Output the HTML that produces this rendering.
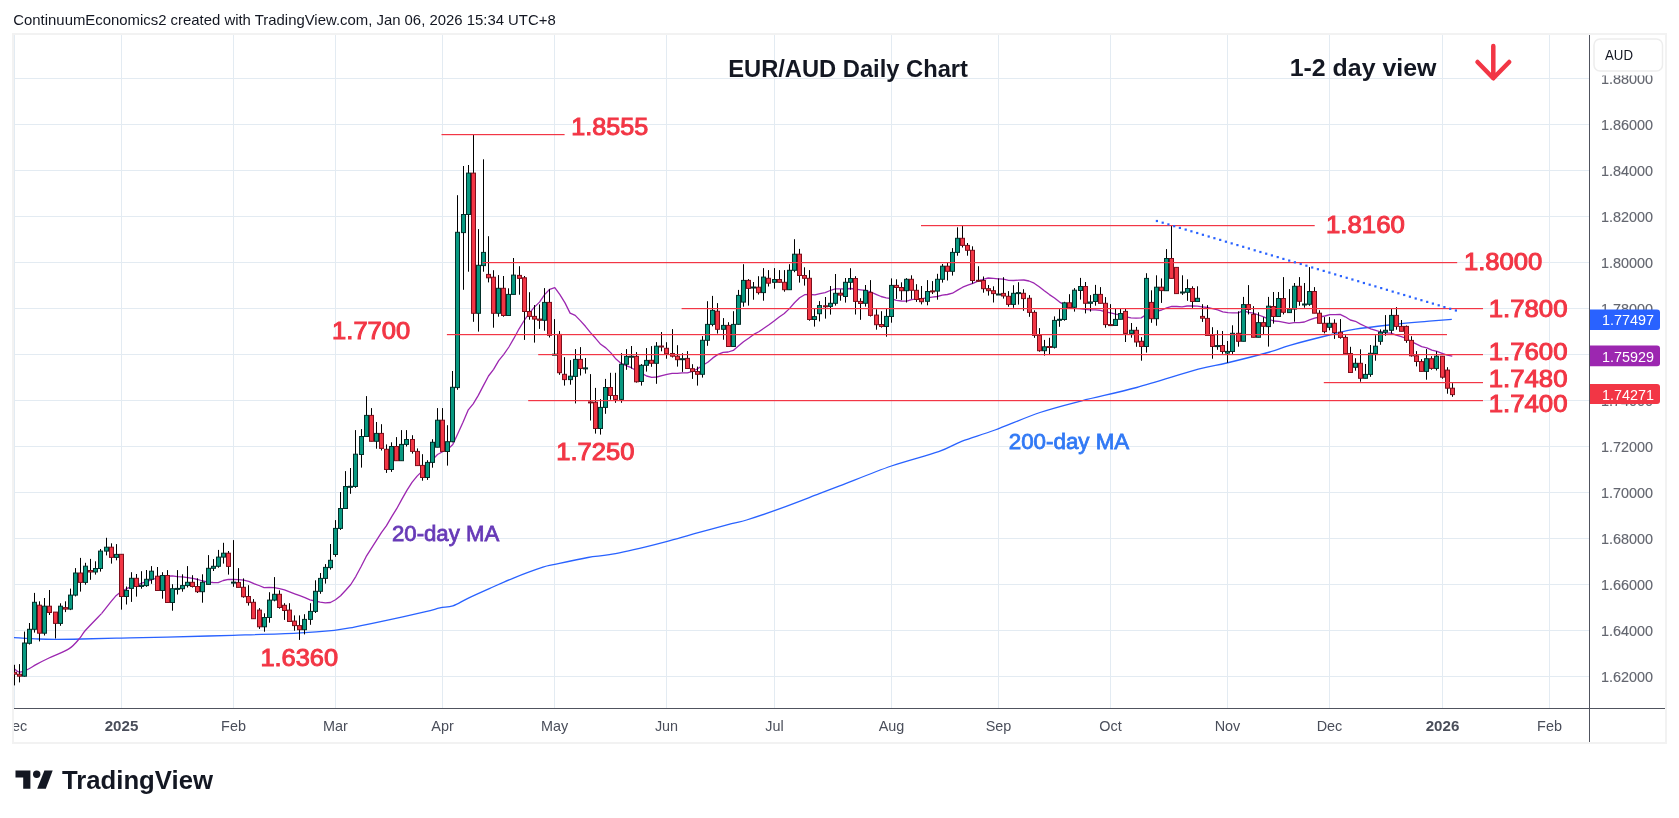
<!DOCTYPE html>
<html><head><meta charset="utf-8"><style>
html,body{margin:0;padding:0;background:#fff;width:1679px;height:818px;overflow:hidden}
svg{display:block;font-family:"Liberation Sans", sans-serif;will-change:transform}
</style></head><body>
<svg width="1679" height="818" viewBox="0 0 1679 818">
<defs>
<clipPath id="chart"><rect x="14" y="35" width="1575" height="673"/></clipPath>
<clipPath id="xaxis"><rect x="14" y="709" width="1575" height="33"/></clipPath>
</defs>
<rect width="1679" height="818" fill="#fff"/>
<rect x="12" y="33" width="1655" height="711" fill="#f2f2f2"/>
<rect x="14" y="35" width="1651" height="707" fill="#ffffff"/>
<rect x="14" y="78" width="1575" height="1" fill="#e3ebf2"/>
<rect x="14" y="124" width="1575" height="1" fill="#e3ebf2"/>
<rect x="14" y="170" width="1575" height="1" fill="#e3ebf2"/>
<rect x="14" y="216" width="1575" height="1" fill="#e3ebf2"/>
<rect x="14" y="262" width="1575" height="1" fill="#e3ebf2"/>
<rect x="14" y="308" width="1575" height="1" fill="#e3ebf2"/>
<rect x="14" y="354" width="1575" height="1" fill="#e3ebf2"/>
<rect x="14" y="400" width="1575" height="1" fill="#e3ebf2"/>
<rect x="14" y="446" width="1575" height="1" fill="#e3ebf2"/>
<rect x="14" y="492" width="1575" height="1" fill="#e3ebf2"/>
<rect x="14" y="538" width="1575" height="1" fill="#e3ebf2"/>
<rect x="14" y="584" width="1575" height="1" fill="#e3ebf2"/>
<rect x="14" y="630" width="1575" height="1" fill="#e3ebf2"/>
<rect x="14" y="676" width="1575" height="1" fill="#e3ebf2"/>
<rect x="14" y="35" width="1" height="673" fill="#e3ebf2"/>
<rect x="121" y="35" width="1" height="673" fill="#e3ebf2"/>
<rect x="233" y="35" width="1" height="673" fill="#e3ebf2"/>
<rect x="335" y="35" width="1" height="673" fill="#e3ebf2"/>
<rect x="442" y="35" width="1" height="673" fill="#e3ebf2"/>
<rect x="554" y="35" width="1" height="673" fill="#e3ebf2"/>
<rect x="666" y="35" width="1" height="673" fill="#e3ebf2"/>
<rect x="774" y="35" width="1" height="673" fill="#e3ebf2"/>
<rect x="891" y="35" width="1" height="673" fill="#e3ebf2"/>
<rect x="998" y="35" width="1" height="673" fill="#e3ebf2"/>
<rect x="1110" y="35" width="1" height="673" fill="#e3ebf2"/>
<rect x="1227" y="35" width="1" height="673" fill="#e3ebf2"/>
<rect x="1329" y="35" width="1" height="673" fill="#e3ebf2"/>
<rect x="1442" y="35" width="1" height="673" fill="#e3ebf2"/>
<rect x="1549" y="35" width="1" height="673" fill="#e3ebf2"/>
<g clip-path="url(#chart)">
<path d="M13.60,637.60 C17.77,637.83 31.58,638.72 38.60,639.00 C45.62,639.28 48.57,639.30 55.70,639.30 C62.83,639.30 70.45,639.20 81.40,639.00 C92.35,638.80 107.13,638.42 121.40,638.10 C135.67,637.78 148.42,637.57 167.00,637.10 C185.58,636.63 211.22,635.97 232.90,635.30 C254.58,634.63 280.20,633.93 297.10,633.10 C314.00,632.27 324.77,631.30 334.30,630.30 C343.83,629.30 345.02,628.87 354.30,627.10 C363.58,625.33 378.10,622.27 390.00,619.70 C401.90,617.13 417.37,613.67 425.70,611.70 C434.03,609.73 435.47,608.88 440.00,607.90 C444.53,606.92 448.25,607.40 452.90,605.80 C457.55,604.20 461.83,601.17 467.90,598.30 C473.97,595.43 481.80,591.93 489.30,588.60 C496.80,585.27 503.97,581.87 512.90,578.30 C521.83,574.73 535.93,569.52 542.90,567.20 C549.87,564.88 547.20,566.02 554.70,564.40 C562.20,562.78 578.78,559.12 587.90,557.50 C597.02,555.88 599.75,556.48 609.40,554.70 C619.05,552.92 636.15,549.02 645.80,546.80 C655.45,544.58 658.72,543.72 667.30,541.40 C675.88,539.08 686.58,535.87 697.30,532.90 C708.02,529.93 723.38,525.75 731.60,523.60 C739.82,521.45 738.53,522.50 746.60,520.00 C754.67,517.50 767.88,512.98 780.00,508.60 C792.12,504.22 809.25,497.52 819.30,493.70 C829.35,489.88 828.28,490.32 840.30,485.70 C852.32,481.08 875.02,471.68 891.40,466.00 C907.78,460.32 926.80,455.75 938.60,451.60 C950.40,447.45 952.80,444.70 962.20,441.10 C971.60,437.50 982.03,434.77 995.00,430.00 C1007.97,425.23 1025.55,417.37 1040.00,412.50 C1054.45,407.63 1065.58,404.97 1081.70,400.80 C1097.82,396.63 1117.27,392.77 1136.70,387.50 C1156.13,382.23 1183.30,373.28 1198.30,369.20 C1213.30,365.12 1214.78,365.87 1226.70,363.00 C1238.62,360.13 1259.28,354.95 1269.80,352.00 C1280.32,349.05 1279.52,348.22 1289.80,345.30 C1300.08,342.38 1320.58,337.18 1331.50,334.50 C1342.42,331.82 1345.38,330.82 1355.30,329.20 C1365.22,327.58 1379.08,326.10 1391.00,324.80 C1402.92,323.50 1416.67,322.32 1426.80,321.40 C1436.93,320.48 1447.63,319.65 1451.80,319.30" fill="none" stroke="#2962ff" stroke-width="1.3" stroke-linejoin="round"/>
<path d="M13.40,668.10 C14.40,668.78 17.05,671.97 19.40,672.20 C21.75,672.43 24.58,670.85 27.50,669.50 C30.42,668.15 33.32,666.02 36.90,664.10 C40.48,662.18 43.62,660.58 49.00,658.00 C54.38,655.42 64.03,651.95 69.20,648.60 C74.37,645.25 77.32,640.92 80.00,637.90 C82.68,634.88 81.72,634.55 85.30,630.50 C88.88,626.45 98.80,616.42 101.50,613.60" fill="none" stroke="#9c27b0" stroke-width="1.3"/>
<polyline points="101.5,613.6 111.2,601.4 116.3,595.4 121.3,591.5 126.4,588.8 131.5,586.3 136.6,585.5 141.7,583.1 146.8,581.7 151.9,579.7 157.0,578.0 162.1,576.5 167.2,576.2 172.3,575.8 177.4,576.6 182.5,576.8 187.6,577.6 192.7,578.3 197.8,579.5 202.9,581.0 208.0,582.1 213.1,582.5 218.2,582.7 223.3,580.5 228.4,579.3 233.5,579.5 238.6,579.6 243.7,580.1 248.8,581.3 253.9,583.7 259.0,585.5 264.1,587.6 269.2,587.5 274.3,587.7 279.4,588.7 284.5,589.9 289.6,591.9 294.7,593.8 299.8,595.7 304.9,597.6 310.0,599.8 315.1,601.0 320.2,602.1 325.3,602.8 330.4,602.5 335.5,599.8 340.6,595.8 345.7,590.3 350.8,584.5 355.9,576.3 361.0,566.8 366.1,556.7 371.2,548.7 376.3,540.7 381.4,532.7 386.5,525.7 391.6,516.9 396.7,508.7 401.8,499.4 406.9,490.4 412.0,482.4 417.1,476.1 422.2,471.1 427.3,465.8 432.4,459.9 437.5,454.5 442.6,451.7 447.7,449.4 452.8,444.5 457.9,433.4 463.0,422.3 468.1,410.2 473.2,403.8 478.3,395.4 483.4,385.6 488.5,376.0 493.6,369.3 498.7,360.7 503.8,354.3 508.9,347.0 514.0,338.2 519.1,328.8 524.2,320.5 529.3,313.2 534.4,307.1 539.5,302.1 544.6,294.6 549.7,289.3 554.8,287.7 559.9,294.7 565.0,302.9 570.1,313.1 575.2,315.4 580.3,320.6 585.4,326.3 590.5,332.6 595.6,338.3 600.7,344.3 605.8,347.9 610.9,352.9 616.0,359.1 621.1,363.4 626.2,365.7 631.3,367.7 636.4,370.8 641.5,373.1 646.6,376.0 651.7,377.4 656.8,377.0 661.9,375.6 667.0,374.4 672.1,373.4 677.2,373.4 682.3,372.9 687.4,372.9 692.5,371.4 697.6,368.7 702.7,365.3 707.8,362.2 712.9,357.9 718.0,354.4 723.1,352.4 728.2,352.0 733.3,350.4 738.4,346.0 743.5,341.8 748.6,338.2 753.7,334.4 758.8,331.7 763.9,328.2 769.0,324.7 774.1,320.9 779.2,317.0 784.3,313.5 789.4,308.6 794.5,302.8 799.6,297.8 804.7,294.7 809.8,294.5 814.9,294.8 820.0,293.6 825.1,292.6 830.2,290.5 835.3,288.9 840.4,288.9 845.5,289.0 850.5,288.5 855.6,289.2 860.7,289.8 865.8,290.4 870.9,292.0 876.0,294.3 881.1,296.5 886.2,297.8 891.3,298.6 896.4,300.3 901.5,301.0 906.6,301.1 911.7,299.6 916.8,298.8 921.9,298.6 927.0,297.8 932.1,297.2 937.2,296.5 942.3,295.1 947.4,294.5 952.5,293.2 957.6,290.1 962.7,287.2 967.8,285.2 972.9,283.4 978.0,281.2 983.1,279.3 988.2,278.0 993.3,278.4 998.4,278.8 1003.5,279.1 1008.6,280.3 1013.7,280.5 1018.8,280.1 1023.9,280.0 1029.0,281.0 1034.1,283.2 1039.2,286.8 1044.3,290.8 1049.4,294.6 1054.5,298.0 1059.6,302.1 1064.7,304.9 1069.8,307.8 1074.9,308.3 1080.0,308.6 1085.1,309.3 1090.2,309.9 1095.3,309.9 1100.4,310.4 1105.5,311.8 1110.6,312.8 1115.7,314.1 1120.8,315.2 1125.9,316.9 1131.0,317.8 1136.1,318.1 1141.2,317.9 1146.3,314.5 1151.4,313.1 1156.5,311.4 1161.6,310.0 1166.7,307.8 1171.8,306.3 1176.9,306.5 1182.0,306.8 1187.1,306.0 1192.2,306.0 1197.3,306.2 1202.4,306.9 1207.5,307.5 1212.6,308.6 1217.7,309.9 1222.8,311.8 1227.9,312.7 1233.0,312.8 1238.1,312.8 1243.2,310.7 1248.3,312.3 1253.4,313.2 1258.5,315.0 1263.6,316.8 1268.7,319.1 1273.8,321.0 1278.9,321.3 1284.0,322.3 1289.1,323.3 1294.2,322.6 1299.3,322.7 1304.4,322.0 1309.5,319.8 1314.6,318.1 1319.7,317.0 1324.8,316.0 1329.9,314.6 1335.0,314.6 1340.1,314.4 1345.2,316.8 1350.3,320.0 1355.4,321.3 1360.5,324.1 1365.6,326.5 1370.7,328.8 1375.8,330.3 1380.9,332.0 1386.0,332.9 1391.1,333.2 1396.2,335.2 1401.3,336.7 1406.4,338.5 1411.5,341.7 1416.6,344.1 1421.7,346.6 1426.8,347.9 1431.9,350.2 1437.0,351.4 1442.1,353.3 1447.2,355.1 1452.3,356.2" fill="none" stroke="#9c27b0" stroke-width="1.3" stroke-linejoin="round"/>
<rect x="14" y="664.8" width="1" height="20.6" fill="#000"/>
<rect x="12.5" y="672.3" width="4" height="1.9" fill="#f23645" stroke="#7d0f1c" stroke-width="1"/>
<rect x="19" y="664.1" width="1" height="18.3" fill="#000"/>
<rect x="17.5" y="674.2" width="4" height="2.0" fill="#f23645" stroke="#7d0f1c" stroke-width="1"/>
<rect x="24" y="631.6" width="1" height="45.0" fill="#000"/>
<rect x="22.5" y="643.0" width="4" height="33.2" fill="#089981" stroke="#03302a" stroke-width="1"/>
<rect x="29" y="623.0" width="1" height="21.5" fill="#000"/>
<rect x="27.5" y="629.3" width="4" height="14.0" fill="#089981" stroke="#03302a" stroke-width="1"/>
<rect x="34" y="592.9" width="1" height="39.7" fill="#000"/>
<rect x="32.5" y="602.3" width="4" height="27.0" fill="#089981" stroke="#03302a" stroke-width="1"/>
<rect x="39" y="601.3" width="1" height="40.1" fill="#000"/>
<rect x="37.5" y="605.2" width="4" height="28.0" fill="#f23645" stroke="#7d0f1c" stroke-width="1"/>
<rect x="44" y="598.0" width="1" height="37.5" fill="#000"/>
<rect x="42.5" y="606.2" width="4" height="27.0" fill="#089981" stroke="#03302a" stroke-width="1"/>
<rect x="49" y="590.0" width="1" height="25.0" fill="#000"/>
<rect x="47.5" y="606.2" width="4" height="6.3" fill="#f23645" stroke="#7d0f1c" stroke-width="1"/>
<rect x="55" y="612.1" width="1" height="26.4" fill="#000"/>
<rect x="53.5" y="612.1" width="4" height="11.3" fill="#f23645" stroke="#7d0f1c" stroke-width="1"/>
<rect x="60" y="603.3" width="1" height="22.5" fill="#000"/>
<rect x="58.5" y="606.2" width="4" height="17.2" fill="#089981" stroke="#03302a" stroke-width="1"/>
<rect x="65" y="601.3" width="1" height="10.8" fill="#000"/>
<rect x="63.5" y="607.6" width="4" height="1.5" fill="#f23645" stroke="#7d0f1c" stroke-width="1"/>
<rect x="70" y="588.6" width="1" height="21.5" fill="#000"/>
<rect x="68.5" y="595.1" width="4" height="14.0" fill="#089981" stroke="#03302a" stroke-width="1"/>
<rect x="75" y="568.1" width="1" height="28.3" fill="#000"/>
<rect x="73.5" y="573.0" width="4" height="22.1" fill="#089981" stroke="#03302a" stroke-width="1"/>
<rect x="80" y="557.9" width="1" height="33.7" fill="#000"/>
<rect x="78.5" y="573.0" width="4" height="9.4" fill="#f23645" stroke="#7d0f1c" stroke-width="1"/>
<rect x="85" y="562.8" width="1" height="21.9" fill="#000"/>
<rect x="83.5" y="566.2" width="4" height="16.2" fill="#089981" stroke="#03302a" stroke-width="1"/>
<rect x="90" y="558.9" width="1" height="20.9" fill="#000"/>
<rect x="88.5" y="570.5" width="4" height="1.5" fill="#f23645" stroke="#7d0f1c" stroke-width="1"/>
<rect x="95" y="561.3" width="1" height="13.3" fill="#000"/>
<rect x="93.5" y="568.5" width="4" height="3.5" fill="#089981" stroke="#03302a" stroke-width="1"/>
<rect x="100" y="549.0" width="1" height="22.6" fill="#000"/>
<rect x="98.5" y="551.1" width="4" height="17.4" fill="#089981" stroke="#03302a" stroke-width="1"/>
<rect x="106" y="537.8" width="1" height="17.6" fill="#000"/>
<rect x="104.5" y="547.2" width="4" height="3.9" fill="#089981" stroke="#03302a" stroke-width="1"/>
<rect x="111" y="543.3" width="1" height="20.3" fill="#000"/>
<rect x="109.5" y="547.2" width="4" height="10.2" fill="#f23645" stroke="#7d0f1c" stroke-width="1"/>
<rect x="116" y="544.1" width="1" height="16.2" fill="#000"/>
<rect x="114.5" y="554.4" width="4" height="3.0" fill="#089981" stroke="#03302a" stroke-width="1"/>
<rect x="121" y="554.3" width="1" height="55.3" fill="#000"/>
<rect x="119.5" y="554.3" width="4" height="42.2" fill="#f23645" stroke="#7d0f1c" stroke-width="1"/>
<rect x="126" y="586.5" width="1" height="18.0" fill="#000"/>
<rect x="124.5" y="590.4" width="4" height="6.1" fill="#089981" stroke="#03302a" stroke-width="1"/>
<rect x="131" y="572.2" width="1" height="29.7" fill="#000"/>
<rect x="129.5" y="578.3" width="4" height="10.1" fill="#089981" stroke="#03302a" stroke-width="1"/>
<rect x="136" y="574.0" width="1" height="22.6" fill="#000"/>
<rect x="134.5" y="578.3" width="4" height="8.2" fill="#f23645" stroke="#7d0f1c" stroke-width="1"/>
<rect x="141" y="571.2" width="1" height="17.5" fill="#000"/>
<rect x="139.5" y="585.3" width="4" height="1.2" fill="#089981" stroke="#03302a" stroke-width="1"/>
<rect x="146" y="570.0" width="1" height="16.8" fill="#000"/>
<rect x="144.5" y="579.3" width="4" height="6.3" fill="#089981" stroke="#03302a" stroke-width="1"/>
<rect x="151" y="566.1" width="1" height="17.7" fill="#000"/>
<rect x="149.5" y="571.2" width="4" height="8.1" fill="#089981" stroke="#03302a" stroke-width="1"/>
<rect x="157" y="567.0" width="1" height="23.5" fill="#000"/>
<rect x="155.5" y="576.2" width="4" height="14.3" fill="#f23645" stroke="#7d0f1c" stroke-width="1"/>
<rect x="162" y="572.2" width="1" height="26.5" fill="#000"/>
<rect x="160.5" y="575.5" width="4" height="15.0" fill="#089981" stroke="#03302a" stroke-width="1"/>
<rect x="167" y="570.1" width="1" height="32.4" fill="#000"/>
<rect x="165.5" y="575.5" width="4" height="27.0" fill="#f23645" stroke="#7d0f1c" stroke-width="1"/>
<rect x="172" y="584.2" width="1" height="26.5" fill="#000"/>
<rect x="170.5" y="588.7" width="4" height="13.8" fill="#089981" stroke="#03302a" stroke-width="1"/>
<rect x="177" y="570.1" width="1" height="24.4" fill="#000"/>
<rect x="175.5" y="588.4" width="4" height="1.0" fill="#089981" stroke="#03302a" stroke-width="1"/>
<rect x="182" y="574.3" width="1" height="17.4" fill="#000"/>
<rect x="180.5" y="585.6" width="4" height="3.1" fill="#089981" stroke="#03302a" stroke-width="1"/>
<rect x="187" y="566.1" width="1" height="21.4" fill="#000"/>
<rect x="185.5" y="582.3" width="4" height="3.3" fill="#089981" stroke="#03302a" stroke-width="1"/>
<rect x="192" y="575.2" width="1" height="12.3" fill="#000"/>
<rect x="190.5" y="582.3" width="4" height="4.2" fill="#f23645" stroke="#7d0f1c" stroke-width="1"/>
<rect x="197" y="578.3" width="1" height="14.7" fill="#000"/>
<rect x="195.5" y="586.5" width="4" height="5.2" fill="#f23645" stroke="#7d0f1c" stroke-width="1"/>
<rect x="202" y="574.3" width="1" height="28.4" fill="#000"/>
<rect x="200.5" y="582.3" width="4" height="9.4" fill="#089981" stroke="#03302a" stroke-width="1"/>
<rect x="208" y="555.1" width="1" height="29.3" fill="#000"/>
<rect x="206.5" y="568.3" width="4" height="16.1" fill="#089981" stroke="#03302a" stroke-width="1"/>
<rect x="213" y="559.1" width="1" height="11.9" fill="#000"/>
<rect x="211.5" y="566.3" width="4" height="2.0" fill="#089981" stroke="#03302a" stroke-width="1"/>
<rect x="218" y="549.9" width="1" height="17.8" fill="#000"/>
<rect x="216.5" y="557.1" width="4" height="9.2" fill="#089981" stroke="#03302a" stroke-width="1"/>
<rect x="223" y="542.8" width="1" height="20.8" fill="#000"/>
<rect x="221.5" y="553.2" width="4" height="3.9" fill="#089981" stroke="#03302a" stroke-width="1"/>
<rect x="228" y="551.0" width="1" height="23.6" fill="#000"/>
<rect x="226.5" y="553.2" width="4" height="13.2" fill="#f23645" stroke="#7d0f1c" stroke-width="1"/>
<rect x="233" y="540.1" width="1" height="46.7" fill="#000"/>
<rect x="231.5" y="582.1" width="4" height="1.0" fill="#089981" stroke="#03302a" stroke-width="1"/>
<rect x="238" y="568.1" width="1" height="19.3" fill="#000"/>
<rect x="236.5" y="582.4" width="4" height="5.0" fill="#f23645" stroke="#7d0f1c" stroke-width="1"/>
<rect x="243" y="578.4" width="1" height="19.3" fill="#000"/>
<rect x="241.5" y="587.3" width="4" height="9.4" fill="#f23645" stroke="#7d0f1c" stroke-width="1"/>
<rect x="248" y="585.2" width="1" height="20.4" fill="#000"/>
<rect x="246.5" y="596.5" width="4" height="6.1" fill="#f23645" stroke="#7d0f1c" stroke-width="1"/>
<rect x="253" y="599.1" width="1" height="19.6" fill="#000"/>
<rect x="251.5" y="602.3" width="4" height="16.4" fill="#f23645" stroke="#7d0f1c" stroke-width="1"/>
<rect x="259" y="608.1" width="1" height="20.8" fill="#000"/>
<rect x="257.5" y="610.1" width="4" height="16.7" fill="#f23645" stroke="#7d0f1c" stroke-width="1"/>
<rect x="264" y="613.3" width="1" height="18.4" fill="#000"/>
<rect x="262.5" y="617.5" width="4" height="9.3" fill="#089981" stroke="#03302a" stroke-width="1"/>
<rect x="269" y="592.2" width="1" height="30.5" fill="#000"/>
<rect x="267.5" y="600.1" width="4" height="17.4" fill="#089981" stroke="#03302a" stroke-width="1"/>
<rect x="274" y="577.1" width="1" height="24.2" fill="#000"/>
<rect x="272.5" y="594.3" width="4" height="5.8" fill="#089981" stroke="#03302a" stroke-width="1"/>
<rect x="279" y="590.3" width="1" height="18.4" fill="#000"/>
<rect x="277.5" y="594.3" width="4" height="13.2" fill="#f23645" stroke="#7d0f1c" stroke-width="1"/>
<rect x="284" y="603.2" width="1" height="16.7" fill="#000"/>
<rect x="282.5" y="605.3" width="4" height="5.2" fill="#f23645" stroke="#7d0f1c" stroke-width="1"/>
<rect x="289" y="603.2" width="1" height="18.3" fill="#000"/>
<rect x="287.5" y="610.1" width="4" height="11.4" fill="#f23645" stroke="#7d0f1c" stroke-width="1"/>
<rect x="294" y="615.4" width="1" height="15.3" fill="#000"/>
<rect x="292.5" y="621.1" width="4" height="4.5" fill="#f23645" stroke="#7d0f1c" stroke-width="1"/>
<rect x="299" y="615.4" width="1" height="24.5" fill="#000"/>
<rect x="297.5" y="625.6" width="4" height="4.1" fill="#f23645" stroke="#7d0f1c" stroke-width="1"/>
<rect x="304" y="614.2" width="1" height="20.2" fill="#000"/>
<rect x="302.5" y="619.4" width="4" height="10.3" fill="#089981" stroke="#03302a" stroke-width="1"/>
<rect x="310" y="603.2" width="1" height="21.6" fill="#000"/>
<rect x="308.5" y="611.4" width="4" height="8.0" fill="#089981" stroke="#03302a" stroke-width="1"/>
<rect x="315" y="580.3" width="1" height="32.7" fill="#000"/>
<rect x="313.5" y="591.3" width="4" height="20.1" fill="#089981" stroke="#03302a" stroke-width="1"/>
<rect x="320" y="573.0" width="1" height="20.8" fill="#000"/>
<rect x="318.5" y="578.4" width="4" height="12.9" fill="#089981" stroke="#03302a" stroke-width="1"/>
<rect x="325" y="564.1" width="1" height="19.5" fill="#000"/>
<rect x="323.5" y="567.4" width="4" height="11.0" fill="#089981" stroke="#03302a" stroke-width="1"/>
<rect x="330" y="544.0" width="1" height="25.6" fill="#000"/>
<rect x="328.5" y="560.3" width="4" height="7.3" fill="#089981" stroke="#03302a" stroke-width="1"/>
<rect x="335" y="520.1" width="1" height="36.7" fill="#000"/>
<rect x="333.5" y="528.4" width="4" height="26.1" fill="#089981" stroke="#03302a" stroke-width="1"/>
<rect x="340" y="492.0" width="1" height="37.9" fill="#000"/>
<rect x="338.5" y="508.5" width="4" height="19.9" fill="#089981" stroke="#03302a" stroke-width="1"/>
<rect x="345" y="471.1" width="1" height="37.4" fill="#000"/>
<rect x="343.5" y="486.5" width="4" height="22.0" fill="#089981" stroke="#03302a" stroke-width="1"/>
<rect x="350" y="468.0" width="1" height="25.8" fill="#000"/>
<rect x="348.5" y="486.3" width="4" height="1.0" fill="#089981" stroke="#03302a" stroke-width="1"/>
<rect x="355" y="430.1" width="1" height="57.7" fill="#000"/>
<rect x="353.5" y="454.2" width="4" height="32.3" fill="#089981" stroke="#03302a" stroke-width="1"/>
<rect x="361" y="429.1" width="1" height="38.5" fill="#000"/>
<rect x="359.5" y="436.5" width="4" height="18.0" fill="#089981" stroke="#03302a" stroke-width="1"/>
<rect x="366" y="396.1" width="1" height="40.4" fill="#000"/>
<rect x="364.5" y="415.4" width="4" height="21.1" fill="#089981" stroke="#03302a" stroke-width="1"/>
<rect x="371" y="408.1" width="1" height="33.2" fill="#000"/>
<rect x="369.5" y="415.4" width="4" height="25.9" fill="#f23645" stroke="#7d0f1c" stroke-width="1"/>
<rect x="376" y="422.0" width="1" height="26.7" fill="#000"/>
<rect x="374.5" y="433.4" width="4" height="7.9" fill="#089981" stroke="#03302a" stroke-width="1"/>
<rect x="381" y="424.2" width="1" height="26.3" fill="#000"/>
<rect x="379.5" y="433.4" width="4" height="15.0" fill="#f23645" stroke="#7d0f1c" stroke-width="1"/>
<rect x="386" y="444.4" width="1" height="28.5" fill="#000"/>
<rect x="384.5" y="449.3" width="4" height="20.2" fill="#f23645" stroke="#7d0f1c" stroke-width="1"/>
<rect x="391" y="442.3" width="1" height="29.6" fill="#000"/>
<rect x="389.5" y="446.5" width="4" height="23.0" fill="#089981" stroke="#03302a" stroke-width="1"/>
<rect x="396" y="437.1" width="1" height="23.6" fill="#000"/>
<rect x="394.5" y="446.5" width="4" height="14.2" fill="#f23645" stroke="#7d0f1c" stroke-width="1"/>
<rect x="401" y="430.1" width="1" height="30.6" fill="#000"/>
<rect x="399.5" y="444.4" width="4" height="16.3" fill="#089981" stroke="#03302a" stroke-width="1"/>
<rect x="406" y="430.1" width="1" height="16.4" fill="#000"/>
<rect x="404.5" y="439.5" width="4" height="4.9" fill="#089981" stroke="#03302a" stroke-width="1"/>
<rect x="412" y="435.2" width="1" height="18.4" fill="#000"/>
<rect x="410.5" y="439.5" width="4" height="11.9" fill="#f23645" stroke="#7d0f1c" stroke-width="1"/>
<rect x="417" y="448.4" width="1" height="17.2" fill="#000"/>
<rect x="415.5" y="451.4" width="4" height="14.2" fill="#f23645" stroke="#7d0f1c" stroke-width="1"/>
<rect x="422" y="454.2" width="1" height="26.5" fill="#000"/>
<rect x="420.5" y="465.4" width="4" height="12.1" fill="#f23645" stroke="#7d0f1c" stroke-width="1"/>
<rect x="427" y="460.2" width="1" height="19.7" fill="#000"/>
<rect x="425.5" y="462.4" width="4" height="15.1" fill="#089981" stroke="#03302a" stroke-width="1"/>
<rect x="432" y="439.2" width="1" height="28.5" fill="#000"/>
<rect x="430.5" y="442.3" width="4" height="20.1" fill="#089981" stroke="#03302a" stroke-width="1"/>
<rect x="437" y="408.1" width="1" height="39.1" fill="#000"/>
<rect x="435.5" y="420.2" width="4" height="27.0" fill="#089981" stroke="#03302a" stroke-width="1"/>
<rect x="442" y="408.1" width="1" height="43.3" fill="#000"/>
<rect x="440.5" y="420.2" width="4" height="31.2" fill="#f23645" stroke="#7d0f1c" stroke-width="1"/>
<rect x="447" y="425.2" width="1" height="40.4" fill="#000"/>
<rect x="445.5" y="441.7" width="4" height="9.8" fill="#089981" stroke="#03302a" stroke-width="1"/>
<rect x="452" y="371.0" width="1" height="71.3" fill="#000"/>
<rect x="450.5" y="387.3" width="4" height="54.4" fill="#089981" stroke="#03302a" stroke-width="1"/>
<rect x="457" y="195.2" width="1" height="194.6" fill="#000"/>
<rect x="455.5" y="232.3" width="4" height="155.3" fill="#089981" stroke="#03302a" stroke-width="1"/>
<rect x="463" y="166.0" width="1" height="123.8" fill="#000"/>
<rect x="461.5" y="214.5" width="4" height="18.1" fill="#089981" stroke="#03302a" stroke-width="1"/>
<rect x="468" y="165.0" width="1" height="106.7" fill="#000"/>
<rect x="466.5" y="173.1" width="4" height="41.4" fill="#089981" stroke="#03302a" stroke-width="1"/>
<rect x="473" y="134.5" width="1" height="187.3" fill="#000"/>
<rect x="471.5" y="173.1" width="4" height="140.2" fill="#f23645" stroke="#7d0f1c" stroke-width="1"/>
<rect x="478" y="229.1" width="1" height="102.5" fill="#000"/>
<rect x="476.5" y="265.3" width="4" height="48.0" fill="#089981" stroke="#03302a" stroke-width="1"/>
<rect x="483" y="159.3" width="1" height="112.4" fill="#000"/>
<rect x="481.5" y="252.4" width="4" height="13.2" fill="#089981" stroke="#03302a" stroke-width="1"/>
<rect x="488" y="236.2" width="1" height="46.2" fill="#000"/>
<rect x="486.5" y="274.4" width="4" height="3.4" fill="#f23645" stroke="#7d0f1c" stroke-width="1"/>
<rect x="493" y="270.2" width="1" height="57.5" fill="#000"/>
<rect x="491.5" y="277.2" width="4" height="36.1" fill="#f23645" stroke="#7d0f1c" stroke-width="1"/>
<rect x="498" y="275.1" width="1" height="41.6" fill="#000"/>
<rect x="496.5" y="288.3" width="4" height="25.0" fill="#089981" stroke="#03302a" stroke-width="1"/>
<rect x="503" y="276.0" width="1" height="40.7" fill="#000"/>
<rect x="501.5" y="288.3" width="4" height="27.2" fill="#f23645" stroke="#7d0f1c" stroke-width="1"/>
<rect x="508" y="288.3" width="1" height="27.2" fill="#000"/>
<rect x="506.5" y="294.4" width="4" height="21.1" fill="#089981" stroke="#03302a" stroke-width="1"/>
<rect x="513" y="258.0" width="1" height="36.4" fill="#000"/>
<rect x="511.5" y="275.1" width="4" height="19.3" fill="#089981" stroke="#03302a" stroke-width="1"/>
<rect x="519" y="266.2" width="1" height="28.5" fill="#000"/>
<rect x="517.5" y="275.4" width="4" height="3.0" fill="#f23645" stroke="#7d0f1c" stroke-width="1"/>
<rect x="524" y="276.0" width="1" height="63.9" fill="#000"/>
<rect x="522.5" y="277.8" width="4" height="33.7" fill="#f23645" stroke="#7d0f1c" stroke-width="1"/>
<rect x="529" y="292.2" width="1" height="27.5" fill="#000"/>
<rect x="527.5" y="311.5" width="4" height="4.9" fill="#f23645" stroke="#7d0f1c" stroke-width="1"/>
<rect x="534" y="305.1" width="1" height="37.5" fill="#000"/>
<rect x="532.5" y="316.4" width="4" height="2.7" fill="#f23645" stroke="#7d0f1c" stroke-width="1"/>
<rect x="539" y="304.4" width="1" height="24.5" fill="#000"/>
<rect x="537.5" y="319.1" width="4" height="1.2" fill="#f23645" stroke="#7d0f1c" stroke-width="1"/>
<rect x="544" y="288.1" width="1" height="42.6" fill="#000"/>
<rect x="542.5" y="302.4" width="4" height="17.9" fill="#089981" stroke="#03302a" stroke-width="1"/>
<rect x="549" y="289.2" width="1" height="48.3" fill="#000"/>
<rect x="547.5" y="302.4" width="4" height="32.9" fill="#f23645" stroke="#7d0f1c" stroke-width="1"/>
<rect x="554" y="319.1" width="1" height="35.3" fill="#000"/>
<rect x="552.5" y="354.2" width="4" height="1.0" fill="#089981" stroke="#03302a" stroke-width="1"/>
<rect x="559" y="331.1" width="1" height="43.7" fill="#000"/>
<rect x="557.5" y="334.4" width="4" height="38.3" fill="#f23645" stroke="#7d0f1c" stroke-width="1"/>
<rect x="564" y="357.1" width="1" height="28.5" fill="#000"/>
<rect x="562.5" y="374.3" width="4" height="5.3" fill="#f23645" stroke="#7d0f1c" stroke-width="1"/>
<rect x="570" y="360.1" width="1" height="24.6" fill="#000"/>
<rect x="568.5" y="376.2" width="4" height="3.4" fill="#089981" stroke="#03302a" stroke-width="1"/>
<rect x="575" y="349.1" width="1" height="54.3" fill="#000"/>
<rect x="573.5" y="359.4" width="4" height="17.0" fill="#089981" stroke="#03302a" stroke-width="1"/>
<rect x="580" y="347.1" width="1" height="28.4" fill="#000"/>
<rect x="578.5" y="359.4" width="4" height="9.1" fill="#f23645" stroke="#7d0f1c" stroke-width="1"/>
<rect x="585" y="358.0" width="1" height="15.6" fill="#000"/>
<rect x="583.5" y="367.9" width="4" height="1.0" fill="#089981" stroke="#03302a" stroke-width="1"/>
<rect x="590" y="374.1" width="1" height="46.4" fill="#000"/>
<rect x="588.5" y="401.9" width="4" height="1.0" fill="#f23645" stroke="#7d0f1c" stroke-width="1"/>
<rect x="595" y="387.9" width="1" height="45.7" fill="#000"/>
<rect x="593.5" y="402.2" width="4" height="26.3" fill="#f23645" stroke="#7d0f1c" stroke-width="1"/>
<rect x="600" y="399.1" width="1" height="35.5" fill="#000"/>
<rect x="598.5" y="407.4" width="4" height="21.1" fill="#089981" stroke="#03302a" stroke-width="1"/>
<rect x="605" y="378.9" width="1" height="34.9" fill="#000"/>
<rect x="603.5" y="387.5" width="4" height="19.9" fill="#089981" stroke="#03302a" stroke-width="1"/>
<rect x="610" y="372.8" width="1" height="26.9" fill="#000"/>
<rect x="608.5" y="387.5" width="4" height="8.0" fill="#f23645" stroke="#7d0f1c" stroke-width="1"/>
<rect x="615" y="372.8" width="1" height="30.0" fill="#000"/>
<rect x="613.5" y="395.5" width="4" height="3.9" fill="#f23645" stroke="#7d0f1c" stroke-width="1"/>
<rect x="621" y="353.1" width="1" height="49.7" fill="#000"/>
<rect x="619.5" y="364.3" width="4" height="35.1" fill="#089981" stroke="#03302a" stroke-width="1"/>
<rect x="626" y="349.1" width="1" height="20.7" fill="#000"/>
<rect x="624.5" y="356.4" width="4" height="7.9" fill="#089981" stroke="#03302a" stroke-width="1"/>
<rect x="631" y="346.0" width="1" height="22.6" fill="#000"/>
<rect x="629.5" y="356.2" width="4" height="1.0" fill="#089981" stroke="#03302a" stroke-width="1"/>
<rect x="636" y="352.1" width="1" height="30.5" fill="#000"/>
<rect x="634.5" y="356.4" width="4" height="25.4" fill="#f23645" stroke="#7d0f1c" stroke-width="1"/>
<rect x="641" y="364.1" width="1" height="21.5" fill="#000"/>
<rect x="639.5" y="365.3" width="4" height="16.2" fill="#089981" stroke="#03302a" stroke-width="1"/>
<rect x="646" y="348.1" width="1" height="23.5" fill="#000"/>
<rect x="644.5" y="360.4" width="4" height="4.9" fill="#089981" stroke="#03302a" stroke-width="1"/>
<rect x="651" y="346.1" width="1" height="20.7" fill="#000"/>
<rect x="649.5" y="360.3" width="4" height="3.0" fill="#f23645" stroke="#7d0f1c" stroke-width="1"/>
<rect x="656" y="342.1" width="1" height="41.7" fill="#000"/>
<rect x="654.5" y="346.2" width="4" height="17.1" fill="#089981" stroke="#03302a" stroke-width="1"/>
<rect x="661" y="332.0" width="1" height="19.3" fill="#000"/>
<rect x="659.5" y="346.0" width="4" height="1.0" fill="#f23645" stroke="#7d0f1c" stroke-width="1"/>
<rect x="666" y="342.2" width="1" height="16.5" fill="#000"/>
<rect x="664.5" y="348.3" width="4" height="5.5" fill="#f23645" stroke="#7d0f1c" stroke-width="1"/>
<rect x="672" y="329.1" width="1" height="28.4" fill="#000"/>
<rect x="670.5" y="353.5" width="4" height="2.7" fill="#f23645" stroke="#7d0f1c" stroke-width="1"/>
<rect x="677" y="345.2" width="1" height="21.4" fill="#000"/>
<rect x="675.5" y="356.2" width="4" height="3.5" fill="#f23645" stroke="#7d0f1c" stroke-width="1"/>
<rect x="682" y="353.2" width="1" height="18.7" fill="#000"/>
<rect x="680.5" y="358.7" width="4" height="1.0" fill="#089981" stroke="#03302a" stroke-width="1"/>
<rect x="687" y="351.1" width="1" height="17.4" fill="#000"/>
<rect x="685.5" y="358.4" width="4" height="10.1" fill="#f23645" stroke="#7d0f1c" stroke-width="1"/>
<rect x="692" y="364.2" width="1" height="14.7" fill="#000"/>
<rect x="690.5" y="368.7" width="4" height="2.8" fill="#f23645" stroke="#7d0f1c" stroke-width="1"/>
<rect x="697" y="366.6" width="1" height="19.0" fill="#000"/>
<rect x="695.5" y="371.5" width="4" height="2.8" fill="#f23645" stroke="#7d0f1c" stroke-width="1"/>
<rect x="702" y="336.1" width="1" height="41.5" fill="#000"/>
<rect x="700.5" y="340.3" width="4" height="34.0" fill="#089981" stroke="#03302a" stroke-width="1"/>
<rect x="707" y="301.2" width="1" height="44.6" fill="#000"/>
<rect x="705.5" y="324.4" width="4" height="15.9" fill="#089981" stroke="#03302a" stroke-width="1"/>
<rect x="712" y="295.9" width="1" height="30.4" fill="#000"/>
<rect x="710.5" y="310.4" width="4" height="14.0" fill="#089981" stroke="#03302a" stroke-width="1"/>
<rect x="717" y="303.1" width="1" height="30.5" fill="#000"/>
<rect x="715.5" y="311.2" width="4" height="18.1" fill="#f23645" stroke="#7d0f1c" stroke-width="1"/>
<rect x="723" y="318.1" width="1" height="21.6" fill="#000"/>
<rect x="721.5" y="325.4" width="4" height="3.9" fill="#089981" stroke="#03302a" stroke-width="1"/>
<rect x="728" y="322.2" width="1" height="24.3" fill="#000"/>
<rect x="726.5" y="325.4" width="4" height="21.1" fill="#f23645" stroke="#7d0f1c" stroke-width="1"/>
<rect x="733" y="311.2" width="1" height="35.3" fill="#000"/>
<rect x="731.5" y="324.4" width="4" height="22.1" fill="#089981" stroke="#03302a" stroke-width="1"/>
<rect x="738" y="289.9" width="1" height="34.8" fill="#000"/>
<rect x="736.5" y="295.4" width="4" height="28.9" fill="#089981" stroke="#03302a" stroke-width="1"/>
<rect x="743" y="264.2" width="1" height="42.5" fill="#000"/>
<rect x="741.5" y="280.4" width="4" height="21.7" fill="#089981" stroke="#03302a" stroke-width="1"/>
<rect x="748" y="279.1" width="1" height="26.5" fill="#000"/>
<rect x="746.5" y="280.4" width="4" height="8.0" fill="#f23645" stroke="#7d0f1c" stroke-width="1"/>
<rect x="753" y="282.0" width="1" height="17.7" fill="#000"/>
<rect x="751.5" y="287.0" width="4" height="1.0" fill="#089981" stroke="#03302a" stroke-width="1"/>
<rect x="758" y="276.2" width="1" height="18.3" fill="#000"/>
<rect x="756.5" y="287.2" width="4" height="5.4" fill="#f23645" stroke="#7d0f1c" stroke-width="1"/>
<rect x="763" y="268.1" width="1" height="32.6" fill="#000"/>
<rect x="761.5" y="277.1" width="4" height="15.5" fill="#089981" stroke="#03302a" stroke-width="1"/>
<rect x="768" y="270.1" width="1" height="16.4" fill="#000"/>
<rect x="766.5" y="278.3" width="4" height="4.9" fill="#f23645" stroke="#7d0f1c" stroke-width="1"/>
<rect x="774" y="268.1" width="1" height="20.6" fill="#000"/>
<rect x="772.5" y="279.5" width="4" height="2.8" fill="#089981" stroke="#03302a" stroke-width="1"/>
<rect x="779" y="270.1" width="1" height="12.5" fill="#000"/>
<rect x="777.5" y="279.5" width="4" height="2.8" fill="#f23645" stroke="#7d0f1c" stroke-width="1"/>
<rect x="784" y="270.1" width="1" height="21.6" fill="#000"/>
<rect x="782.5" y="282.3" width="4" height="7.4" fill="#f23645" stroke="#7d0f1c" stroke-width="1"/>
<rect x="789" y="264.2" width="1" height="25.5" fill="#000"/>
<rect x="787.5" y="270.3" width="4" height="19.4" fill="#089981" stroke="#03302a" stroke-width="1"/>
<rect x="794" y="239.2" width="1" height="33.0" fill="#000"/>
<rect x="792.5" y="254.2" width="4" height="16.1" fill="#089981" stroke="#03302a" stroke-width="1"/>
<rect x="799" y="248.9" width="1" height="33.7" fill="#000"/>
<rect x="797.5" y="254.2" width="4" height="21.3" fill="#f23645" stroke="#7d0f1c" stroke-width="1"/>
<rect x="804" y="267.3" width="1" height="18.3" fill="#000"/>
<rect x="802.5" y="275.5" width="4" height="2.8" fill="#f23645" stroke="#7d0f1c" stroke-width="1"/>
<rect x="809" y="270.1" width="1" height="50.6" fill="#000"/>
<rect x="807.5" y="278.3" width="4" height="41.2" fill="#f23645" stroke="#7d0f1c" stroke-width="1"/>
<rect x="814" y="308.9" width="1" height="17.7" fill="#000"/>
<rect x="812.5" y="316.6" width="4" height="2.9" fill="#089981" stroke="#03302a" stroke-width="1"/>
<rect x="819" y="301.1" width="1" height="20.3" fill="#000"/>
<rect x="817.5" y="305.6" width="4" height="8.1" fill="#089981" stroke="#03302a" stroke-width="1"/>
<rect x="825" y="297.0" width="1" height="21.6" fill="#000"/>
<rect x="823.5" y="305.8" width="4" height="1.0" fill="#f23645" stroke="#7d0f1c" stroke-width="1"/>
<rect x="830" y="286.0" width="1" height="28.6" fill="#000"/>
<rect x="828.5" y="303.3" width="4" height="3.1" fill="#089981" stroke="#03302a" stroke-width="1"/>
<rect x="835" y="274.0" width="1" height="31.6" fill="#000"/>
<rect x="833.5" y="293.3" width="4" height="10.0" fill="#089981" stroke="#03302a" stroke-width="1"/>
<rect x="840" y="289.3" width="1" height="11.4" fill="#000"/>
<rect x="838.5" y="293.2" width="4" height="1.9" fill="#f23645" stroke="#7d0f1c" stroke-width="1"/>
<rect x="845" y="278.0" width="1" height="24.6" fill="#000"/>
<rect x="843.5" y="282.3" width="4" height="14.2" fill="#089981" stroke="#03302a" stroke-width="1"/>
<rect x="850" y="268.2" width="1" height="21.5" fill="#000"/>
<rect x="848.5" y="278.5" width="4" height="3.8" fill="#089981" stroke="#03302a" stroke-width="1"/>
<rect x="855" y="276.2" width="1" height="38.3" fill="#000"/>
<rect x="853.5" y="278.5" width="4" height="22.9" fill="#f23645" stroke="#7d0f1c" stroke-width="1"/>
<rect x="860" y="298.2" width="1" height="21.6" fill="#000"/>
<rect x="858.5" y="301.4" width="4" height="2.1" fill="#f23645" stroke="#7d0f1c" stroke-width="1"/>
<rect x="865" y="285.0" width="1" height="21.6" fill="#000"/>
<rect x="863.5" y="290.4" width="4" height="12.9" fill="#089981" stroke="#03302a" stroke-width="1"/>
<rect x="870" y="280.1" width="1" height="36.4" fill="#000"/>
<rect x="868.5" y="292.4" width="4" height="23.0" fill="#f23645" stroke="#7d0f1c" stroke-width="1"/>
<rect x="876" y="309.2" width="1" height="20.5" fill="#000"/>
<rect x="874.5" y="315.1" width="4" height="9.6" fill="#f23645" stroke="#7d0f1c" stroke-width="1"/>
<rect x="881" y="311.2" width="1" height="16.4" fill="#000"/>
<rect x="879.5" y="324.5" width="4" height="2.0" fill="#f23645" stroke="#7d0f1c" stroke-width="1"/>
<rect x="886" y="309.0" width="1" height="27.7" fill="#000"/>
<rect x="884.5" y="316.4" width="4" height="10.1" fill="#089981" stroke="#03302a" stroke-width="1"/>
<rect x="891" y="278.4" width="1" height="44.3" fill="#000"/>
<rect x="889.5" y="285.4" width="4" height="31.1" fill="#089981" stroke="#03302a" stroke-width="1"/>
<rect x="896" y="279.3" width="1" height="19.6" fill="#000"/>
<rect x="894.5" y="285.4" width="4" height="2.1" fill="#f23645" stroke="#7d0f1c" stroke-width="1"/>
<rect x="901" y="282.3" width="1" height="17.8" fill="#000"/>
<rect x="899.5" y="287.5" width="4" height="3.2" fill="#f23645" stroke="#7d0f1c" stroke-width="1"/>
<rect x="906" y="278.1" width="1" height="24.4" fill="#000"/>
<rect x="904.5" y="279.3" width="4" height="11.4" fill="#089981" stroke="#03302a" stroke-width="1"/>
<rect x="911" y="275.3" width="1" height="23.6" fill="#000"/>
<rect x="909.5" y="279.3" width="4" height="11.0" fill="#f23645" stroke="#7d0f1c" stroke-width="1"/>
<rect x="916" y="284.2" width="1" height="17.7" fill="#000"/>
<rect x="914.5" y="290.3" width="4" height="9.2" fill="#f23645" stroke="#7d0f1c" stroke-width="1"/>
<rect x="921" y="286.0" width="1" height="18.4" fill="#000"/>
<rect x="919.5" y="298.5" width="4" height="3.2" fill="#f23645" stroke="#7d0f1c" stroke-width="1"/>
<rect x="927" y="280.1" width="1" height="25.2" fill="#000"/>
<rect x="925.5" y="291.5" width="4" height="9.8" fill="#089981" stroke="#03302a" stroke-width="1"/>
<rect x="932" y="281.1" width="1" height="12.9" fill="#000"/>
<rect x="930.5" y="290.9" width="4" height="1.0" fill="#f23645" stroke="#7d0f1c" stroke-width="1"/>
<rect x="937" y="273.8" width="1" height="25.9" fill="#000"/>
<rect x="935.5" y="279.3" width="4" height="11.8" fill="#089981" stroke="#03302a" stroke-width="1"/>
<rect x="942" y="264.0" width="1" height="18.6" fill="#000"/>
<rect x="940.5" y="266.2" width="4" height="13.1" fill="#089981" stroke="#03302a" stroke-width="1"/>
<rect x="947" y="263.0" width="1" height="17.5" fill="#000"/>
<rect x="945.5" y="266.2" width="4" height="5.1" fill="#f23645" stroke="#7d0f1c" stroke-width="1"/>
<rect x="952" y="248.1" width="1" height="27.5" fill="#000"/>
<rect x="950.5" y="252.4" width="4" height="18.9" fill="#089981" stroke="#03302a" stroke-width="1"/>
<rect x="957" y="227.3" width="1" height="28.4" fill="#000"/>
<rect x="955.5" y="238.3" width="4" height="14.1" fill="#089981" stroke="#03302a" stroke-width="1"/>
<rect x="962" y="225.5" width="1" height="22.0" fill="#000"/>
<rect x="960.5" y="238.3" width="4" height="7.1" fill="#f23645" stroke="#7d0f1c" stroke-width="1"/>
<rect x="967" y="243.0" width="1" height="12.7" fill="#000"/>
<rect x="965.5" y="245.4" width="4" height="4.9" fill="#f23645" stroke="#7d0f1c" stroke-width="1"/>
<rect x="972" y="246.3" width="1" height="37.3" fill="#000"/>
<rect x="970.5" y="250.3" width="4" height="30.2" fill="#f23645" stroke="#7d0f1c" stroke-width="1"/>
<rect x="978" y="266.2" width="1" height="15.5" fill="#000"/>
<rect x="976.5" y="280.3" width="4" height="1.0" fill="#f23645" stroke="#7d0f1c" stroke-width="1"/>
<rect x="983" y="276.5" width="1" height="16.2" fill="#000"/>
<rect x="981.5" y="280.5" width="4" height="8.2" fill="#f23645" stroke="#7d0f1c" stroke-width="1"/>
<rect x="988" y="285.0" width="1" height="10.6" fill="#000"/>
<rect x="986.5" y="288.7" width="4" height="2.0" fill="#f23645" stroke="#7d0f1c" stroke-width="1"/>
<rect x="993" y="286.3" width="1" height="16.2" fill="#000"/>
<rect x="991.5" y="290.7" width="4" height="2.9" fill="#f23645" stroke="#7d0f1c" stroke-width="1"/>
<rect x="998" y="278.4" width="1" height="16.4" fill="#000"/>
<rect x="996.5" y="294.0" width="4" height="1.0" fill="#089981" stroke="#03302a" stroke-width="1"/>
<rect x="1003" y="277.2" width="1" height="21.4" fill="#000"/>
<rect x="1001.5" y="293.4" width="4" height="2.6" fill="#f23645" stroke="#7d0f1c" stroke-width="1"/>
<rect x="1008" y="291.1" width="1" height="15.6" fill="#000"/>
<rect x="1006.5" y="296.3" width="4" height="8.1" fill="#f23645" stroke="#7d0f1c" stroke-width="1"/>
<rect x="1013" y="285.2" width="1" height="22.6" fill="#000"/>
<rect x="1011.5" y="293.3" width="4" height="11.1" fill="#089981" stroke="#03302a" stroke-width="1"/>
<rect x="1018" y="282.2" width="1" height="22.4" fill="#000"/>
<rect x="1016.5" y="292.6" width="4" height="1.0" fill="#089981" stroke="#03302a" stroke-width="1"/>
<rect x="1023" y="289.2" width="1" height="21.6" fill="#000"/>
<rect x="1021.5" y="293.3" width="4" height="5.3" fill="#f23645" stroke="#7d0f1c" stroke-width="1"/>
<rect x="1029" y="295.1" width="1" height="21.7" fill="#000"/>
<rect x="1027.5" y="298.3" width="4" height="14.1" fill="#f23645" stroke="#7d0f1c" stroke-width="1"/>
<rect x="1034" y="310.3" width="1" height="27.5" fill="#000"/>
<rect x="1032.5" y="312.4" width="4" height="23.0" fill="#f23645" stroke="#7d0f1c" stroke-width="1"/>
<rect x="1039" y="328.1" width="1" height="23.6" fill="#000"/>
<rect x="1037.5" y="335.4" width="4" height="15.3" fill="#f23645" stroke="#7d0f1c" stroke-width="1"/>
<rect x="1044" y="339.9" width="1" height="15.7" fill="#000"/>
<rect x="1042.5" y="346.8" width="4" height="3.9" fill="#089981" stroke="#03302a" stroke-width="1"/>
<rect x="1049" y="337.8" width="1" height="16.6" fill="#000"/>
<rect x="1047.5" y="346.5" width="4" height="1.0" fill="#f23645" stroke="#7d0f1c" stroke-width="1"/>
<rect x="1054" y="316.4" width="1" height="32.1" fill="#000"/>
<rect x="1052.5" y="320.4" width="4" height="26.9" fill="#089981" stroke="#03302a" stroke-width="1"/>
<rect x="1059" y="309.1" width="1" height="17.7" fill="#000"/>
<rect x="1057.5" y="319.3" width="4" height="1.0" fill="#089981" stroke="#03302a" stroke-width="1"/>
<rect x="1064" y="301.8" width="1" height="18.9" fill="#000"/>
<rect x="1062.5" y="302.8" width="4" height="16.7" fill="#089981" stroke="#03302a" stroke-width="1"/>
<rect x="1069" y="294.2" width="1" height="13.7" fill="#000"/>
<rect x="1067.5" y="302.8" width="4" height="4.9" fill="#f23645" stroke="#7d0f1c" stroke-width="1"/>
<rect x="1074" y="288.1" width="1" height="23.5" fill="#000"/>
<rect x="1072.5" y="290.2" width="4" height="17.1" fill="#089981" stroke="#03302a" stroke-width="1"/>
<rect x="1080" y="277.9" width="1" height="21.7" fill="#000"/>
<rect x="1078.5" y="286.5" width="4" height="4.0" fill="#089981" stroke="#03302a" stroke-width="1"/>
<rect x="1085" y="282.0" width="1" height="31.4" fill="#000"/>
<rect x="1083.5" y="286.5" width="4" height="16.8" fill="#f23645" stroke="#7d0f1c" stroke-width="1"/>
<rect x="1090" y="295.1" width="1" height="16.5" fill="#000"/>
<rect x="1088.5" y="302.0" width="4" height="1.3" fill="#089981" stroke="#03302a" stroke-width="1"/>
<rect x="1095" y="284.9" width="1" height="20.8" fill="#000"/>
<rect x="1093.5" y="294.4" width="4" height="7.1" fill="#089981" stroke="#03302a" stroke-width="1"/>
<rect x="1100" y="287.1" width="1" height="16.2" fill="#000"/>
<rect x="1098.5" y="294.4" width="4" height="8.9" fill="#f23645" stroke="#7d0f1c" stroke-width="1"/>
<rect x="1105" y="297.1" width="1" height="30.6" fill="#000"/>
<rect x="1103.5" y="303.3" width="4" height="21.3" fill="#f23645" stroke="#7d0f1c" stroke-width="1"/>
<rect x="1110" y="304.1" width="1" height="21.4" fill="#000"/>
<rect x="1108.5" y="324.6" width="4" height="1.0" fill="#f23645" stroke="#7d0f1c" stroke-width="1"/>
<rect x="1115" y="309.0" width="1" height="16.5" fill="#000"/>
<rect x="1113.5" y="319.4" width="4" height="6.1" fill="#089981" stroke="#03302a" stroke-width="1"/>
<rect x="1120" y="308.9" width="1" height="10.4" fill="#000"/>
<rect x="1118.5" y="313.5" width="4" height="5.8" fill="#089981" stroke="#03302a" stroke-width="1"/>
<rect x="1125" y="308.9" width="1" height="33.1" fill="#000"/>
<rect x="1123.5" y="311.4" width="4" height="22.0" fill="#f23645" stroke="#7d0f1c" stroke-width="1"/>
<rect x="1131" y="323.0" width="1" height="14.7" fill="#000"/>
<rect x="1129.5" y="330.3" width="4" height="3.1" fill="#089981" stroke="#03302a" stroke-width="1"/>
<rect x="1136" y="326.9" width="1" height="19.9" fill="#000"/>
<rect x="1134.5" y="330.3" width="4" height="11.7" fill="#f23645" stroke="#7d0f1c" stroke-width="1"/>
<rect x="1141" y="337.1" width="1" height="23.6" fill="#000"/>
<rect x="1139.5" y="341.3" width="4" height="5.2" fill="#f23645" stroke="#7d0f1c" stroke-width="1"/>
<rect x="1146" y="273.2" width="1" height="79.4" fill="#000"/>
<rect x="1144.5" y="278.4" width="4" height="68.1" fill="#089981" stroke="#03302a" stroke-width="1"/>
<rect x="1151" y="290.3" width="1" height="32.5" fill="#000"/>
<rect x="1149.5" y="302.4" width="4" height="16.3" fill="#f23645" stroke="#7d0f1c" stroke-width="1"/>
<rect x="1156" y="275.3" width="1" height="50.4" fill="#000"/>
<rect x="1154.5" y="287.2" width="4" height="31.5" fill="#089981" stroke="#03302a" stroke-width="1"/>
<rect x="1161" y="278.4" width="1" height="24.5" fill="#000"/>
<rect x="1159.5" y="287.2" width="4" height="3.4" fill="#f23645" stroke="#7d0f1c" stroke-width="1"/>
<rect x="1166" y="249.1" width="1" height="41.6" fill="#000"/>
<rect x="1164.5" y="258.5" width="4" height="32.2" fill="#089981" stroke="#03302a" stroke-width="1"/>
<rect x="1171" y="225.5" width="1" height="52.9" fill="#000"/>
<rect x="1169.5" y="258.5" width="4" height="19.9" fill="#f23645" stroke="#7d0f1c" stroke-width="1"/>
<rect x="1176" y="267.4" width="1" height="26.2" fill="#000"/>
<rect x="1174.5" y="267.4" width="4" height="26.2" fill="#f23645" stroke="#7d0f1c" stroke-width="1"/>
<rect x="1182" y="275.3" width="1" height="19.6" fill="#000"/>
<rect x="1180.5" y="292.0" width="4" height="1.0" fill="#089981" stroke="#03302a" stroke-width="1"/>
<rect x="1187" y="279.3" width="1" height="21.5" fill="#000"/>
<rect x="1185.5" y="288.5" width="4" height="3.8" fill="#089981" stroke="#03302a" stroke-width="1"/>
<rect x="1192" y="286.3" width="1" height="21.6" fill="#000"/>
<rect x="1190.5" y="288.5" width="4" height="13.0" fill="#f23645" stroke="#7d0f1c" stroke-width="1"/>
<rect x="1197" y="286.3" width="1" height="15.2" fill="#000"/>
<rect x="1195.5" y="298.3" width="4" height="3.2" fill="#089981" stroke="#03302a" stroke-width="1"/>
<rect x="1202" y="304.2" width="1" height="17.7" fill="#000"/>
<rect x="1200.5" y="316.4" width="4" height="1.8" fill="#f23645" stroke="#7d0f1c" stroke-width="1"/>
<rect x="1207" y="305.1" width="1" height="30.4" fill="#000"/>
<rect x="1205.5" y="318.4" width="4" height="17.1" fill="#f23645" stroke="#7d0f1c" stroke-width="1"/>
<rect x="1212" y="327.2" width="1" height="31.5" fill="#000"/>
<rect x="1210.5" y="335.4" width="4" height="11.1" fill="#f23645" stroke="#7d0f1c" stroke-width="1"/>
<rect x="1217" y="330.2" width="1" height="19.6" fill="#000"/>
<rect x="1215.5" y="345.6" width="4" height="1.0" fill="#089981" stroke="#03302a" stroke-width="1"/>
<rect x="1222" y="331.0" width="1" height="22.8" fill="#000"/>
<rect x="1220.5" y="345.5" width="4" height="6.0" fill="#f23645" stroke="#7d0f1c" stroke-width="1"/>
<rect x="1227" y="341.0" width="1" height="21.8" fill="#000"/>
<rect x="1225.5" y="351.4" width="4" height="1.7" fill="#089981" stroke="#03302a" stroke-width="1"/>
<rect x="1232" y="325.3" width="1" height="28.6" fill="#000"/>
<rect x="1230.5" y="333.3" width="4" height="18.2" fill="#089981" stroke="#03302a" stroke-width="1"/>
<rect x="1238" y="311.3" width="1" height="35.4" fill="#000"/>
<rect x="1236.5" y="333.3" width="4" height="8.0" fill="#f23645" stroke="#7d0f1c" stroke-width="1"/>
<rect x="1243" y="296.9" width="1" height="44.4" fill="#000"/>
<rect x="1241.5" y="304.6" width="4" height="36.7" fill="#089981" stroke="#03302a" stroke-width="1"/>
<rect x="1248" y="285.1" width="1" height="29.3" fill="#000"/>
<rect x="1246.5" y="304.6" width="4" height="4.9" fill="#f23645" stroke="#7d0f1c" stroke-width="1"/>
<rect x="1253" y="306.2" width="1" height="31.1" fill="#000"/>
<rect x="1251.5" y="314.4" width="4" height="22.9" fill="#f23645" stroke="#7d0f1c" stroke-width="1"/>
<rect x="1258" y="312.3" width="1" height="25.0" fill="#000"/>
<rect x="1256.5" y="322.6" width="4" height="14.7" fill="#089981" stroke="#03302a" stroke-width="1"/>
<rect x="1263" y="317.2" width="1" height="16.8" fill="#000"/>
<rect x="1261.5" y="322.6" width="4" height="3.7" fill="#f23645" stroke="#7d0f1c" stroke-width="1"/>
<rect x="1268" y="296.9" width="1" height="49.7" fill="#000"/>
<rect x="1266.5" y="306.2" width="4" height="20.4" fill="#089981" stroke="#03302a" stroke-width="1"/>
<rect x="1273" y="292.0" width="1" height="31.6" fill="#000"/>
<rect x="1271.5" y="306.5" width="4" height="10.0" fill="#f23645" stroke="#7d0f1c" stroke-width="1"/>
<rect x="1278" y="292.0" width="1" height="24.5" fill="#000"/>
<rect x="1276.5" y="298.5" width="4" height="18.0" fill="#089981" stroke="#03302a" stroke-width="1"/>
<rect x="1283" y="277.1" width="1" height="37.3" fill="#000"/>
<rect x="1281.5" y="298.5" width="4" height="13.8" fill="#f23645" stroke="#7d0f1c" stroke-width="1"/>
<rect x="1289" y="289.1" width="1" height="23.5" fill="#000"/>
<rect x="1287.5" y="309.1" width="4" height="3.5" fill="#089981" stroke="#03302a" stroke-width="1"/>
<rect x="1294" y="283.0" width="1" height="38.7" fill="#000"/>
<rect x="1292.5" y="286.3" width="4" height="22.8" fill="#089981" stroke="#03302a" stroke-width="1"/>
<rect x="1299" y="277.1" width="1" height="28.7" fill="#000"/>
<rect x="1297.5" y="286.3" width="4" height="15.0" fill="#f23645" stroke="#7d0f1c" stroke-width="1"/>
<rect x="1304" y="283.0" width="1" height="24.7" fill="#000"/>
<rect x="1302.5" y="304.0" width="4" height="1.0" fill="#089981" stroke="#03302a" stroke-width="1"/>
<rect x="1309" y="267.1" width="1" height="38.7" fill="#000"/>
<rect x="1307.5" y="291.5" width="4" height="12.8" fill="#089981" stroke="#03302a" stroke-width="1"/>
<rect x="1314" y="287.1" width="1" height="26.1" fill="#000"/>
<rect x="1312.5" y="291.5" width="4" height="21.7" fill="#f23645" stroke="#7d0f1c" stroke-width="1"/>
<rect x="1319" y="310.2" width="1" height="13.1" fill="#000"/>
<rect x="1317.5" y="313.2" width="4" height="10.1" fill="#f23645" stroke="#7d0f1c" stroke-width="1"/>
<rect x="1324" y="317.1" width="1" height="16.3" fill="#000"/>
<rect x="1322.5" y="323.3" width="4" height="8.3" fill="#f23645" stroke="#7d0f1c" stroke-width="1"/>
<rect x="1329" y="317.1" width="1" height="13.2" fill="#000"/>
<rect x="1327.5" y="323.3" width="4" height="4.0" fill="#089981" stroke="#03302a" stroke-width="1"/>
<rect x="1334" y="319.3" width="1" height="19.6" fill="#000"/>
<rect x="1332.5" y="323.3" width="4" height="9.2" fill="#f23645" stroke="#7d0f1c" stroke-width="1"/>
<rect x="1340" y="319.1" width="1" height="19.6" fill="#000"/>
<rect x="1338.5" y="332.2" width="4" height="5.2" fill="#f23645" stroke="#7d0f1c" stroke-width="1"/>
<rect x="1345" y="335.2" width="1" height="18.4" fill="#000"/>
<rect x="1343.5" y="337.4" width="4" height="16.2" fill="#f23645" stroke="#7d0f1c" stroke-width="1"/>
<rect x="1350" y="346.8" width="1" height="25.7" fill="#000"/>
<rect x="1348.5" y="353.6" width="4" height="18.9" fill="#f23645" stroke="#7d0f1c" stroke-width="1"/>
<rect x="1355" y="358.2" width="1" height="12.5" fill="#000"/>
<rect x="1353.5" y="363.3" width="4" height="4.0" fill="#089981" stroke="#03302a" stroke-width="1"/>
<rect x="1360" y="349.3" width="1" height="32.4" fill="#000"/>
<rect x="1358.5" y="363.3" width="4" height="15.0" fill="#f23645" stroke="#7d0f1c" stroke-width="1"/>
<rect x="1365" y="364.0" width="1" height="14.3" fill="#000"/>
<rect x="1363.5" y="374.4" width="4" height="3.9" fill="#089981" stroke="#03302a" stroke-width="1"/>
<rect x="1370" y="345.0" width="1" height="31.8" fill="#000"/>
<rect x="1368.5" y="353.3" width="4" height="21.1" fill="#089981" stroke="#03302a" stroke-width="1"/>
<rect x="1375" y="335.2" width="1" height="25.5" fill="#000"/>
<rect x="1373.5" y="346.2" width="4" height="7.4" fill="#089981" stroke="#03302a" stroke-width="1"/>
<rect x="1380" y="329.4" width="1" height="15.4" fill="#000"/>
<rect x="1378.5" y="332.2" width="4" height="9.1" fill="#089981" stroke="#03302a" stroke-width="1"/>
<rect x="1385" y="315.1" width="1" height="20.7" fill="#000"/>
<rect x="1383.5" y="330.3" width="4" height="1.9" fill="#089981" stroke="#03302a" stroke-width="1"/>
<rect x="1391" y="308.9" width="1" height="24.5" fill="#000"/>
<rect x="1389.5" y="315.4" width="4" height="14.9" fill="#089981" stroke="#03302a" stroke-width="1"/>
<rect x="1396" y="307.1" width="1" height="22.6" fill="#000"/>
<rect x="1394.5" y="315.4" width="4" height="11.0" fill="#f23645" stroke="#7d0f1c" stroke-width="1"/>
<rect x="1401" y="320.0" width="1" height="11.3" fill="#000"/>
<rect x="1399.5" y="326.4" width="4" height="4.9" fill="#f23645" stroke="#7d0f1c" stroke-width="1"/>
<rect x="1406" y="325.5" width="1" height="17.3" fill="#000"/>
<rect x="1404.5" y="326.4" width="4" height="14.0" fill="#f23645" stroke="#7d0f1c" stroke-width="1"/>
<rect x="1411" y="336.2" width="1" height="20.4" fill="#000"/>
<rect x="1409.5" y="340.4" width="4" height="15.4" fill="#f23645" stroke="#7d0f1c" stroke-width="1"/>
<rect x="1416" y="351.1" width="1" height="15.3" fill="#000"/>
<rect x="1414.5" y="355.8" width="4" height="5.7" fill="#f23645" stroke="#7d0f1c" stroke-width="1"/>
<rect x="1421" y="359.1" width="1" height="12.3" fill="#000"/>
<rect x="1419.5" y="361.6" width="4" height="9.8" fill="#f23645" stroke="#7d0f1c" stroke-width="1"/>
<rect x="1426" y="349.1" width="1" height="30.6" fill="#000"/>
<rect x="1424.5" y="358.7" width="4" height="12.7" fill="#089981" stroke="#03302a" stroke-width="1"/>
<rect x="1431" y="356.2" width="1" height="13.5" fill="#000"/>
<rect x="1429.5" y="358.7" width="4" height="9.7" fill="#f23645" stroke="#7d0f1c" stroke-width="1"/>
<rect x="1436" y="351.3" width="1" height="19.2" fill="#000"/>
<rect x="1434.5" y="356.2" width="4" height="12.2" fill="#089981" stroke="#03302a" stroke-width="1"/>
<rect x="1442" y="356.2" width="1" height="22.5" fill="#000"/>
<rect x="1440.5" y="356.2" width="4" height="21.0" fill="#f23645" stroke="#7d0f1c" stroke-width="1"/>
<rect x="1447" y="367.2" width="1" height="26.5" fill="#000"/>
<rect x="1445.5" y="370.1" width="4" height="18.1" fill="#f23645" stroke="#7d0f1c" stroke-width="1"/>
<rect x="1452" y="383.1" width="1" height="13.7" fill="#000"/>
<rect x="1450.5" y="388.2" width="4" height="6.4" fill="#f23645" stroke="#7d0f1c" stroke-width="1"/>
<rect x="441.5" y="134" width="123.1" height="1.2" fill="#f23645"/>
<rect x="921.0" y="225" width="393.7" height="1.2" fill="#f23645"/>
<rect x="482.6" y="262" width="974.6" height="1.2" fill="#f23645"/>
<rect x="681.6" y="308" width="801.4" height="1.2" fill="#f23645"/>
<rect x="446.9" y="334" width="1000.1" height="1.2" fill="#f23645"/>
<rect x="538.2" y="354" width="944.8" height="1.2" fill="#f23645"/>
<rect x="1323.8" y="382" width="159.2" height="1.2" fill="#f23645"/>
<rect x="528.2" y="400" width="954.8" height="1.2" fill="#f23645"/>
<rect x="1155.8" y="219.9" width="2.2" height="2.2" fill="#2962ff"/>
<rect x="1161.6" y="221.6" width="2.2" height="2.2" fill="#2962ff"/>
<rect x="1167.3" y="223.3" width="2.2" height="2.2" fill="#2962ff"/>
<rect x="1173.1" y="225.1" width="2.2" height="2.2" fill="#2962ff"/>
<rect x="1178.8" y="226.8" width="2.2" height="2.2" fill="#2962ff"/>
<rect x="1184.6" y="228.5" width="2.2" height="2.2" fill="#2962ff"/>
<rect x="1190.3" y="230.2" width="2.2" height="2.2" fill="#2962ff"/>
<rect x="1196.1" y="231.9" width="2.2" height="2.2" fill="#2962ff"/>
<rect x="1201.8" y="233.7" width="2.2" height="2.2" fill="#2962ff"/>
<rect x="1207.6" y="235.4" width="2.2" height="2.2" fill="#2962ff"/>
<rect x="1213.3" y="237.1" width="2.2" height="2.2" fill="#2962ff"/>
<rect x="1219.1" y="238.8" width="2.2" height="2.2" fill="#2962ff"/>
<rect x="1224.8" y="240.6" width="2.2" height="2.2" fill="#2962ff"/>
<rect x="1230.6" y="242.3" width="2.2" height="2.2" fill="#2962ff"/>
<rect x="1236.3" y="244.0" width="2.2" height="2.2" fill="#2962ff"/>
<rect x="1242.1" y="245.7" width="2.2" height="2.2" fill="#2962ff"/>
<rect x="1247.8" y="247.4" width="2.2" height="2.2" fill="#2962ff"/>
<rect x="1253.6" y="249.2" width="2.2" height="2.2" fill="#2962ff"/>
<rect x="1259.3" y="250.9" width="2.2" height="2.2" fill="#2962ff"/>
<rect x="1265.1" y="252.6" width="2.2" height="2.2" fill="#2962ff"/>
<rect x="1270.8" y="254.3" width="2.2" height="2.2" fill="#2962ff"/>
<rect x="1276.6" y="256.0" width="2.2" height="2.2" fill="#2962ff"/>
<rect x="1282.3" y="257.8" width="2.2" height="2.2" fill="#2962ff"/>
<rect x="1288.1" y="259.5" width="2.2" height="2.2" fill="#2962ff"/>
<rect x="1293.8" y="261.2" width="2.2" height="2.2" fill="#2962ff"/>
<rect x="1299.6" y="262.9" width="2.2" height="2.2" fill="#2962ff"/>
<rect x="1305.3" y="264.6" width="2.2" height="2.2" fill="#2962ff"/>
<rect x="1311.1" y="266.4" width="2.2" height="2.2" fill="#2962ff"/>
<rect x="1316.8" y="268.1" width="2.2" height="2.2" fill="#2962ff"/>
<rect x="1322.6" y="269.8" width="2.2" height="2.2" fill="#2962ff"/>
<rect x="1328.3" y="271.5" width="2.2" height="2.2" fill="#2962ff"/>
<rect x="1334.1" y="273.3" width="2.2" height="2.2" fill="#2962ff"/>
<rect x="1339.8" y="275.0" width="2.2" height="2.2" fill="#2962ff"/>
<rect x="1345.6" y="276.7" width="2.2" height="2.2" fill="#2962ff"/>
<rect x="1351.3" y="278.4" width="2.2" height="2.2" fill="#2962ff"/>
<rect x="1357.1" y="280.1" width="2.2" height="2.2" fill="#2962ff"/>
<rect x="1362.8" y="281.9" width="2.2" height="2.2" fill="#2962ff"/>
<rect x="1368.6" y="283.6" width="2.2" height="2.2" fill="#2962ff"/>
<rect x="1374.3" y="285.3" width="2.2" height="2.2" fill="#2962ff"/>
<rect x="1380.1" y="287.0" width="2.2" height="2.2" fill="#2962ff"/>
<rect x="1385.8" y="288.7" width="2.2" height="2.2" fill="#2962ff"/>
<rect x="1391.6" y="290.5" width="2.2" height="2.2" fill="#2962ff"/>
<rect x="1397.3" y="292.2" width="2.2" height="2.2" fill="#2962ff"/>
<rect x="1403.1" y="293.9" width="2.2" height="2.2" fill="#2962ff"/>
<rect x="1408.8" y="295.6" width="2.2" height="2.2" fill="#2962ff"/>
<rect x="1414.6" y="297.4" width="2.2" height="2.2" fill="#2962ff"/>
<rect x="1420.3" y="299.1" width="2.2" height="2.2" fill="#2962ff"/>
<rect x="1426.1" y="300.8" width="2.2" height="2.2" fill="#2962ff"/>
<rect x="1431.8" y="302.5" width="2.2" height="2.2" fill="#2962ff"/>
<rect x="1437.6" y="304.2" width="2.2" height="2.2" fill="#2962ff"/>
<rect x="1443.3" y="306.0" width="2.2" height="2.2" fill="#2962ff"/>
<rect x="1449.1" y="307.7" width="2.2" height="2.2" fill="#2962ff"/>
<rect x="1454.8" y="309.4" width="2.2" height="2.2" fill="#2962ff"/>
</g>
<rect x="1589" y="35" width="1" height="707" fill="#50535e"/>
<rect x="14" y="708" width="1651" height="1" fill="#50535e"/>
<text x="1600.9" y="84.2" font-size="15.4" font-weight="normal" fill="#63666f" stroke="#63666f" stroke-width="0.15" textLength="52.1" lengthAdjust="spacingAndGlyphs">1.88000</text>
<text x="1600.9" y="130.2" font-size="15.4" font-weight="normal" fill="#63666f" stroke="#63666f" stroke-width="0.15" textLength="52.1" lengthAdjust="spacingAndGlyphs">1.86000</text>
<text x="1600.9" y="176.2" font-size="15.4" font-weight="normal" fill="#63666f" stroke="#63666f" stroke-width="0.15" textLength="52.1" lengthAdjust="spacingAndGlyphs">1.84000</text>
<text x="1600.9" y="222.2" font-size="15.4" font-weight="normal" fill="#63666f" stroke="#63666f" stroke-width="0.15" textLength="52.1" lengthAdjust="spacingAndGlyphs">1.82000</text>
<text x="1600.9" y="268.2" font-size="15.4" font-weight="normal" fill="#63666f" stroke="#63666f" stroke-width="0.15" textLength="52.1" lengthAdjust="spacingAndGlyphs">1.80000</text>
<text x="1600.9" y="314.2" font-size="15.4" font-weight="normal" fill="#63666f" stroke="#63666f" stroke-width="0.15" textLength="52.1" lengthAdjust="spacingAndGlyphs">1.78000</text>
<text x="1600.9" y="360.2" font-size="15.4" font-weight="normal" fill="#63666f" stroke="#63666f" stroke-width="0.15" textLength="52.1" lengthAdjust="spacingAndGlyphs">1.76000</text>
<text x="1600.9" y="406.2" font-size="15.4" font-weight="normal" fill="#63666f" stroke="#63666f" stroke-width="0.15" textLength="52.1" lengthAdjust="spacingAndGlyphs">1.74000</text>
<text x="1600.9" y="452.2" font-size="15.4" font-weight="normal" fill="#63666f" stroke="#63666f" stroke-width="0.15" textLength="52.1" lengthAdjust="spacingAndGlyphs">1.72000</text>
<text x="1600.9" y="498.2" font-size="15.4" font-weight="normal" fill="#63666f" stroke="#63666f" stroke-width="0.15" textLength="52.1" lengthAdjust="spacingAndGlyphs">1.70000</text>
<text x="1600.9" y="544.2" font-size="15.4" font-weight="normal" fill="#63666f" stroke="#63666f" stroke-width="0.15" textLength="52.1" lengthAdjust="spacingAndGlyphs">1.68000</text>
<text x="1600.9" y="590.2" font-size="15.4" font-weight="normal" fill="#63666f" stroke="#63666f" stroke-width="0.15" textLength="52.1" lengthAdjust="spacingAndGlyphs">1.66000</text>
<text x="1600.9" y="636.2" font-size="15.4" font-weight="normal" fill="#63666f" stroke="#63666f" stroke-width="0.15" textLength="52.1" lengthAdjust="spacingAndGlyphs">1.64000</text>
<text x="1600.9" y="682.2" font-size="15.4" font-weight="normal" fill="#63666f" stroke="#63666f" stroke-width="0.15" textLength="52.1" lengthAdjust="spacingAndGlyphs">1.62000</text>
<rect x="1591" y="36" width="74" height="39.5" fill="#fff"/>
<rect x="1594" y="39" width="68.5" height="32" rx="6" fill="#fff" stroke="#ededed" stroke-width="1.5"/>
<text x="1605.0" y="59.9" font-size="15" font-weight="normal" fill="#131722" textLength="28.0" lengthAdjust="spacingAndGlyphs">AUD</text>
<path d="M1590,309.4 H1657 Q1660,309.4 1660,312.4 V327 Q1660,330 1657,330 H1590 Z" fill="#2962ff"/>
<text x="1602.0" y="325.3" font-size="15" font-weight="normal" fill="#ffffff" textLength="51.9" lengthAdjust="spacingAndGlyphs">1.77497</text>
<path d="M1590,345.6 H1657 Q1660,345.6 1660,348.6 V363.3 Q1660,366.3 1657,366.3 H1590 Z" fill="#9c27b0"/>
<text x="1602.0" y="361.6" font-size="15" font-weight="normal" fill="#ffffff" textLength="51.9" lengthAdjust="spacingAndGlyphs">1.75929</text>
<path d="M1590,384 H1657 Q1660,384 1660,387 V401.1 Q1660,404.1 1657,404.1 H1590 Z" fill="#f23645"/>
<text x="1602.0" y="399.7" font-size="15" font-weight="normal" fill="#ffffff" textLength="51.9" lengthAdjust="spacingAndGlyphs">1.74271</text>
<g clip-path="url(#xaxis)">
<text x="14.5" y="730.9" font-size="14.4" fill="#4a4e5a" text-anchor="middle">Dec</text>
<text x="104.7" y="731" font-size="15" font-weight="bold" fill="#4a4e5a" textLength="33.6" lengthAdjust="spacingAndGlyphs">2025</text>
<text x="233.5" y="730.9" font-size="14.4" fill="#4a4e5a" text-anchor="middle">Feb</text>
<text x="335.5" y="730.9" font-size="14.4" fill="#4a4e5a" text-anchor="middle">Mar</text>
<text x="442.5" y="730.9" font-size="14.4" fill="#4a4e5a" text-anchor="middle">Apr</text>
<text x="554.5" y="730.9" font-size="14.4" fill="#4a4e5a" text-anchor="middle">May</text>
<text x="666.5" y="730.9" font-size="14.4" fill="#4a4e5a" text-anchor="middle">Jun</text>
<text x="774.5" y="730.9" font-size="14.4" fill="#4a4e5a" text-anchor="middle">Jul</text>
<text x="891.5" y="730.9" font-size="14.4" fill="#4a4e5a" text-anchor="middle">Aug</text>
<text x="998.5" y="730.9" font-size="14.4" fill="#4a4e5a" text-anchor="middle">Sep</text>
<text x="1110.5" y="730.9" font-size="14.4" fill="#4a4e5a" text-anchor="middle">Oct</text>
<text x="1227.5" y="730.9" font-size="14.4" fill="#4a4e5a" text-anchor="middle">Nov</text>
<text x="1329.5" y="730.9" font-size="14.4" fill="#4a4e5a" text-anchor="middle">Dec</text>
<text x="1425.7" y="731" font-size="15" font-weight="bold" fill="#4a4e5a" textLength="33.6" lengthAdjust="spacingAndGlyphs">2026</text>
<text x="1549.5" y="730.9" font-size="14.4" fill="#4a4e5a" text-anchor="middle">Feb</text>
</g>
<text x="13.3" y="25.0" font-size="15" font-weight="normal" fill="#131722" textLength="542.4" lengthAdjust="spacingAndGlyphs">ContinuumEconomics2 created with TradingView.com, Jan 06, 2026 15:34 UTC+8</text>
<text x="728.2" y="77.0" font-size="24" font-weight="bold" fill="#131722" textLength="239.8" lengthAdjust="spacingAndGlyphs">EUR/AUD Daily Chart</text>
<text x="1289.7" y="76.1" font-size="24" font-weight="bold" fill="#131722" textLength="146.8" lengthAdjust="spacingAndGlyphs">1-2 day view</text>
<path d="M1493.3,46 V78.3 M1477.5,62 L1493.3,78.3 L1509.2,62" fill="none" stroke="#f23645" stroke-width="4.5" stroke-linecap="round" stroke-linejoin="round"/>
<text x="571.3" y="135.2" font-size="23.6" font-weight="normal" fill="#f23645" stroke="#f23645" stroke-width="1.0" textLength="76.9" lengthAdjust="spacingAndGlyphs">1.8555</text>
<text x="332.1" y="338.5" font-size="23.6" font-weight="normal" fill="#f23645" stroke="#f23645" stroke-width="1.0" textLength="78.1" lengthAdjust="spacingAndGlyphs">1.7700</text>
<text x="556.2" y="459.5" font-size="23.6" font-weight="normal" fill="#f23645" stroke="#f23645" stroke-width="1.0" textLength="78.2" lengthAdjust="spacingAndGlyphs">1.7250</text>
<text x="260.4" y="665.6" font-size="23.6" font-weight="normal" fill="#f23645" stroke="#f23645" stroke-width="1.0" textLength="77.7" lengthAdjust="spacingAndGlyphs">1.6360</text>
<text x="1326.0" y="233.3" font-size="23.6" font-weight="normal" fill="#f23645" stroke="#f23645" stroke-width="1.0" textLength="78.8" lengthAdjust="spacingAndGlyphs">1.8160</text>
<text x="1463.9" y="269.5" font-size="23.6" font-weight="normal" fill="#f23645" stroke="#f23645" stroke-width="1.0" textLength="78.4" lengthAdjust="spacingAndGlyphs">1.8000</text>
<text x="1488.8" y="316.5" font-size="23.6" font-weight="normal" fill="#f23645" stroke="#f23645" stroke-width="1.0" textLength="78.7" lengthAdjust="spacingAndGlyphs">1.7800</text>
<text x="1488.8" y="359.5" font-size="23.6" font-weight="normal" fill="#f23645" stroke="#f23645" stroke-width="1.0" textLength="78.7" lengthAdjust="spacingAndGlyphs">1.7600</text>
<text x="1488.8" y="387.2" font-size="23.6" font-weight="normal" fill="#f23645" stroke="#f23645" stroke-width="1.0" textLength="78.7" lengthAdjust="spacingAndGlyphs">1.7480</text>
<text x="1488.8" y="411.5" font-size="23.6" font-weight="normal" fill="#f23645" stroke="#f23645" stroke-width="1.0" textLength="78.7" lengthAdjust="spacingAndGlyphs">1.7400</text>
<text x="392.0" y="540.5" font-size="22.6" font-weight="normal" fill="#673ab7" stroke="#673ab7" stroke-width="0.8" textLength="107.2" lengthAdjust="spacingAndGlyphs">20-day MA</text>
<text x="1008.7" y="448.6" font-size="22.6" font-weight="normal" fill="#3179f5" stroke="#3179f5" stroke-width="0.8" textLength="120.6" lengthAdjust="spacingAndGlyphs">200-day MA</text>
<path d="M15.5,770.5 H30.4 V788.8 H23.2 V777.6 H15.5 Z" fill="#131722"/>
<circle cx="36.7" cy="774.2" r="3.7" fill="#131722"/>
<path d="M44.4,770.5 H52.7 L45.8,788.8 H37.2 Z" fill="#131722"/>
<text x="61.9" y="788.8" font-size="25.5" font-weight="bold" fill="#131722" textLength="151.1" lengthAdjust="spacingAndGlyphs">TradingView</text>
</svg>
</body></html>
